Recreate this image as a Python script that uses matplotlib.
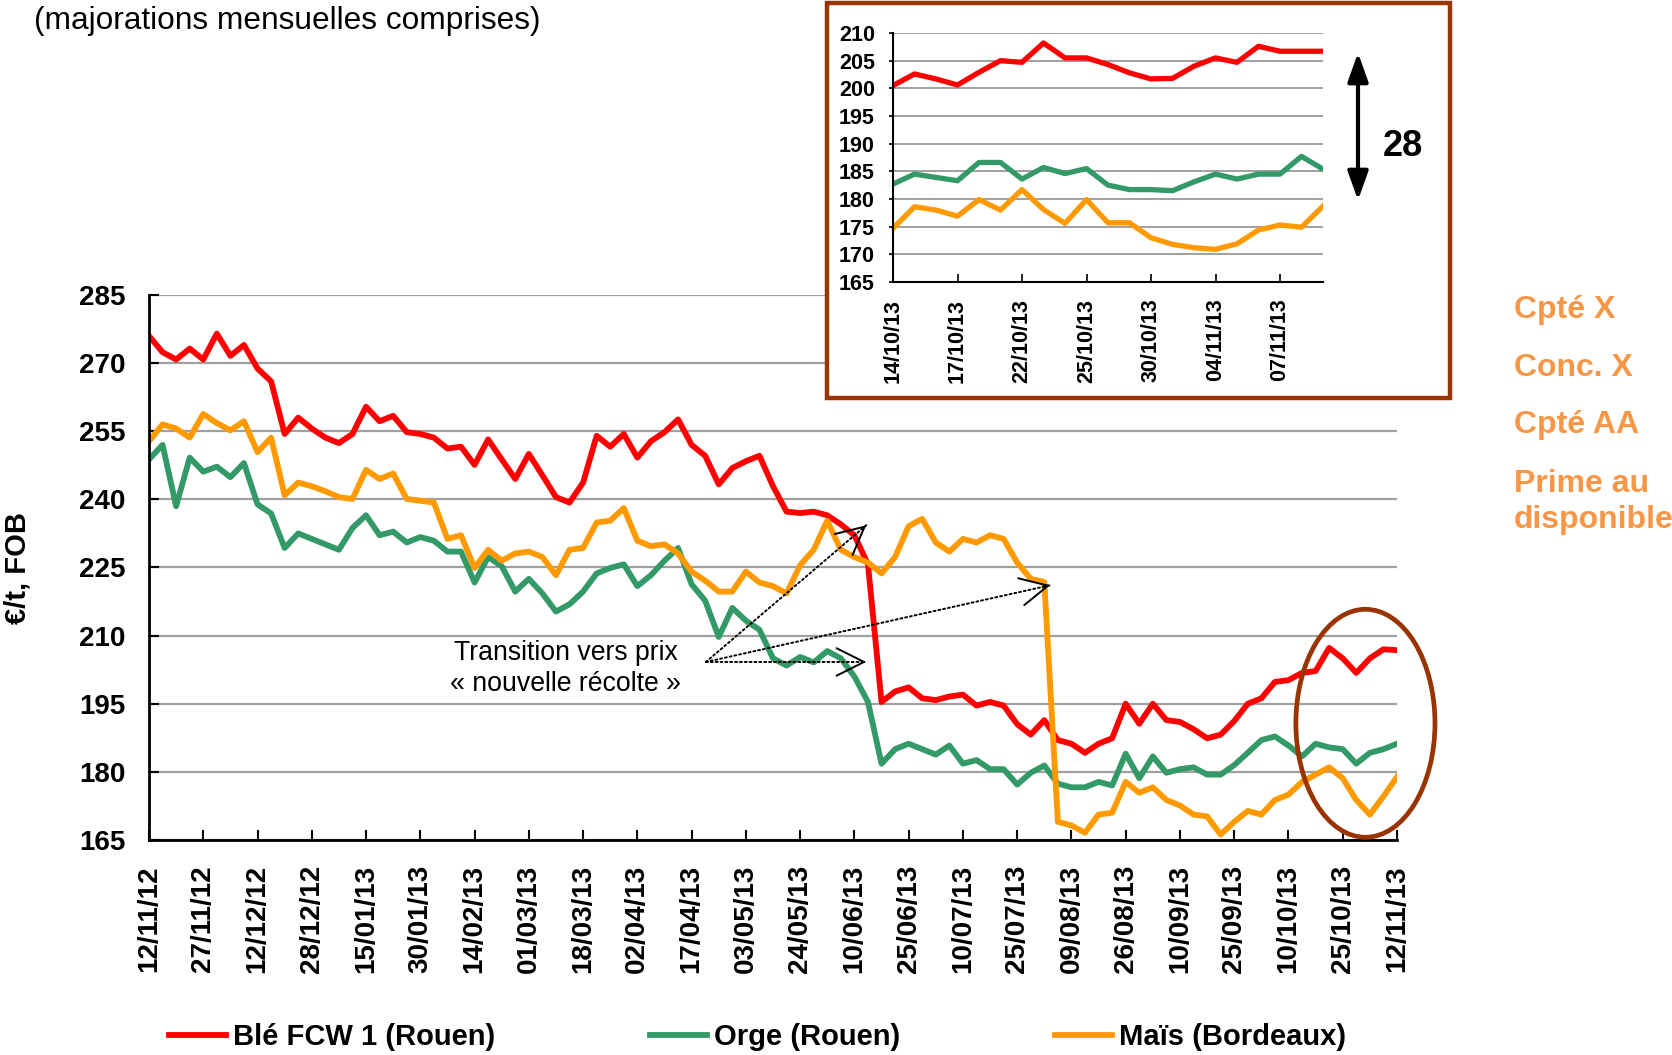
import matplotlib.pyplot as plt
import numpy as np
from matplotlib.patches import Ellipse, Rectangle, FancyArrowPatch

plt.rcParams["font.family"] = ["Liberation Sans", "DejaVu Sans"]

# Main chart: one label every 11 trading days, values read every quarter label
date_labels = [
    "12/11/12", "27/11/12", "12/12/12", "28/12/12", "15/01/13", "30/01/13",
    "14/02/13", "01/03/13", "18/03/13", "02/04/13", "17/04/13", "03/05/13",
    "24/05/13", "10/06/13", "25/06/13", "10/07/13", "25/07/13", "09/08/13",
    "26/08/13", "10/09/13", "25/09/13", "10/10/13", "25/10/13", "12/11/13",
]

ble = [
    276.0, 272.4, 270.8, 273.2,
    270.8, 276.5, 271.6, 274.0,
    268.8, 266.0, 254.4, 258.0,
    255.6, 253.6, 252.4, 254.4,
    260.4, 257.2, 258.4, 254.8,
    254.4, 253.6, 251.2, 251.6,
    247.6, 253.2, 248.8, 244.5,
    250.0, 245.3, 240.5, 239.3,
    243.7, 254.0, 251.6, 254.4,
    249.2, 252.8, 254.8, 257.6,
    252.0, 249.6, 243.3, 246.9,
    248.4, 249.6, 242.9, 237.3,
    237.0, 237.3, 236.5, 234.5,
    232.1, 225.7, 195.4, 197.7,
    198.6, 196.2, 195.8, 196.6,
    197.0, 194.6, 195.4, 194.6,
    190.5, 188.2, 191.4, 187.0,
    186.2, 184.2, 186.2, 187.4,
    195.0, 190.6, 195.0, 191.4,
    191.0, 189.4, 187.4, 188.2,
    191.2, 195.0, 196.2, 199.8,
    200.2, 201.8, 202.2, 207.3,
    205.0, 201.8, 205.0, 207.0,
    206.8,
]

orge = [
    248.8, 252.0, 238.5, 249.2,
    246.1, 247.2, 244.9, 248.0,
    238.9, 236.9, 229.3, 232.5,
    231.3, 230.1, 228.9, 233.7,
    236.5, 232.1, 232.9, 230.5,
    231.7, 230.9, 228.5, 228.5,
    221.7, 227.3, 225.3, 219.7,
    222.5, 219.3, 215.3, 216.9,
    219.7, 223.7, 224.9, 225.7,
    220.9, 223.3, 226.5, 229.3,
    221.3, 217.7, 209.7, 216.1,
    213.3, 211.3, 205.0, 203.4,
    205.3, 204.1, 206.6, 205.0,
    201.0, 195.4, 181.8, 185.0,
    186.2, 185.0, 183.8, 185.8,
    181.8, 182.6, 180.6, 180.6,
    177.2, 179.8, 181.4, 177.4,
    176.6, 176.6, 177.8, 177.0,
    184.0, 178.6, 183.4, 179.8,
    180.6, 181.0, 179.4, 179.4,
    181.5, 184.2, 187.0, 187.8,
    185.8, 183.4, 186.2, 185.4,
    185.0, 181.8, 184.2, 185.0,
    186.2,
]

mais = [
    252.8, 256.5, 255.6, 253.6,
    258.8, 256.8, 255.2, 257.2,
    250.4, 253.6, 240.9, 243.7,
    242.9, 241.8, 240.5, 240.1,
    246.5, 244.5, 245.7, 240.1,
    239.7, 239.3, 231.3, 232.1,
    224.9, 228.9, 226.5, 228.1,
    228.5, 227.3, 223.3, 228.9,
    229.3, 234.9, 235.3, 238.1,
    230.9, 229.7, 230.1, 228.1,
    224.1, 222.1, 219.7, 219.7,
    224.1, 221.7, 220.9, 219.3,
    225.5, 228.9, 235.3, 228.9,
    227.3, 226.1, 223.7, 227.3,
    234.1, 235.7, 230.5, 228.5,
    231.3, 230.5, 232.1, 231.3,
    226.1, 222.5, 221.8, 169.0,
    168.2, 166.6, 170.6, 171.0,
    177.8, 175.4, 176.6, 173.8,
    172.6, 170.6, 170.2, 166.2,
    169.0, 171.4, 170.6, 173.8,
    175.0, 177.8, 179.4, 181.0,
    178.6, 173.8, 170.6, 174.6,
    178.9,
]

# Zoom on the last month (daily values)
inset_labels = ["14/10/13", "17/10/13", "22/10/13", "25/10/13",
                "30/10/13", "04/11/13", "07/11/13"]
ble_zoom = [200.5, 202.6, 201.7, 200.6, 202.9, 205.0, 204.7, 208.2, 205.5,
            205.5, 204.3, 202.8, 201.7, 201.8, 204.0, 205.5, 204.7, 207.6,
            206.7, 206.7, 206.7]
orge_zoom = [182.7, 184.5, 183.9, 183.3, 186.6, 186.6, 183.6, 185.7, 184.6,
             185.5, 182.5, 181.7, 181.7, 181.5, 183.1, 184.5, 183.6, 184.5,
             184.5, 187.7, 185.4]
mais_zoom = [174.7, 178.6, 178.0, 176.9, 179.9, 178.0, 181.7, 178.1, 175.6,
             179.9, 175.7, 175.7, 173.0, 171.8, 171.2, 170.9, 171.9, 174.4,
             175.3, 174.9, 178.7]

RED = "#FF0000"
GREEN = "#339966"
ORANGE = "#FF9900"
ORANGE_TXT = "#F79646"
BROWN = "#993300"
GRID = "#A0A0A0"

W, H = 1672, 1055
fig = plt.figure(figsize=(W / 100, H / 100), dpi=100)
fig.patch.set_facecolor("white")


def fx(px):
    return px / W


def fy(py):
    return 1 - py / H


# %% main chart
ax = fig.add_axes([fx(149), fy(840), fx(1397 - 149), (840 - 295) / H], zorder=0)
x = np.arange(len(ble)) * 11 / 4
ax.plot(x, ble, color=RED, lw=4.2, label="Blé FCW 1 (Rouen)", solid_joinstyle="round")
ax.plot(x, orge, color=GREEN, lw=4.2, label="Orge (Rouen)", solid_joinstyle="round")
ax.plot(x, mais, color=ORANGE, lw=4.2, label="Maïs (Bordeaux)", solid_joinstyle="round")

ax.set_xlim(0, 253)
ax.set_ylim(165, 285)
ax.set_yticks(np.arange(165, 286, 15))
ax.set_xticks(np.arange(0, 254, 11))
ax.set_xticklabels(date_labels, rotation=90)
for lab in ax.get_xticklabels() + ax.get_yticklabels():
    lab.set_fontweight("bold")
    lab.set_fontsize(20)
ax.tick_params(axis="x", direction="in", length=7, width=1.5, pad=18)
ax.tick_params(axis="y", direction="in", length=7, width=1.5, pad=17)
ax.grid(axis="y", color=GRID, lw=1.6)
ax.set_axisbelow(True)
for side in ("top", "right"):
    ax.spines[side].set_visible(False)
for side in ("left", "bottom"):
    ax.spines[side].set_linewidth(2)

# annotation: harvest transition
ax.text(84.5, 202.7, "Transition vers prix\n« nouvelle récolte »", ha="center",
        va="center", fontsize=19.2, linespacing=1.25)
start = np.array([112.9, 204.2])
for end in ([145.4, 234.3], [182.7, 221.1], [145.4, 204.2]):
    end = np.array(end)
    ax.annotate("", xy=end, xytext=start,
                arrowprops=dict(arrowstyle="-", linestyle=(0, (1, 1.5)), lw=1.4,
                                color="black", shrinkA=0, shrinkB=0))
    ax.annotate("", xy=end, xytext=end - (end - start) * 0.02,
                arrowprops=dict(arrowstyle="->,head_length=0.9,head_width=0.45",
                                lw=1.4, color="black", shrinkA=0, shrinkB=0,
                                mutation_scale=22))

ax.add_patch(Ellipse((246.6, 190.7), 28.2, 50.2, fill=False, edgecolor=BROWN,
                     lw=3.4, clip_on=False, zorder=5))

fig.text(fx(18), fy(568), "€/t, FOB", rotation=90, ha="center", va="center",
         fontsize=21, fontweight="bold")
fig.text(fx(34), fy(21), "(majorations mensuelles comprises)", ha="left",
         va="center", fontsize=22.8)

handles, labels = ax.get_legend_handles_labels()
fig.legend(handles, labels, loc="center", bbox_to_anchor=(0.453, fy(1037)),
           ncol=3, frameon=False, prop={"weight": "bold", "size": 21},
           handlelength=1.95, handletextpad=0.25, columnspacing=5.3)

# %% right-hand notes
for txt, ypx in [("Cpté X", 310), ("Conc. X", 368), ("Cpté AA", 425),
                 ("Prime au\ndisponible", 502)]:
    fig.text(fx(1514), fy(ypx), txt, color=ORANGE_TXT, fontsize=23,
             fontweight="bold", ha="left", va="center", linespacing=1.25)

# %% inset
box = Rectangle((fx(827), fy(398)), fx(1450 - 827), (398 - 3) / H,
                transform=fig.transFigure, facecolor="white", edgecolor=BROWN,
                lw=3.2, zorder=1)
fig.add_artist(box)

axi = fig.add_axes([fx(893), fy(282), fx(1323 - 893), (282 - 33) / H], zorder=2)
xi = np.arange(len(ble_zoom))
axi.plot(xi, ble_zoom, color=RED, lw=3.8, solid_joinstyle="round")
axi.plot(xi, orge_zoom, color=GREEN, lw=3.8, solid_joinstyle="round")
axi.plot(xi, mais_zoom, color=ORANGE, lw=3.8, solid_joinstyle="round")
axi.set_xlim(0, 20)
axi.set_ylim(165, 210)
axi.set_yticks(np.arange(165, 211, 5))
axi.set_xticks(np.arange(0, 19, 3))
axi.set_xticklabels(inset_labels, rotation=90)
for lab in axi.get_xticklabels() + axi.get_yticklabels():
    lab.set_fontweight("bold")
    lab.set_fontsize(15.5)
axi.tick_params(axis="x", direction="in", length=6, width=1.2, pad=12)
axi.tick_params(axis="y", direction="out", length=3, width=1.2, pad=10)
axi.grid(axis="y", color=GRID, lw=1.4)
axi.set_axisbelow(True)
for side in ("top", "right"):
    axi.spines[side].set_visible(False)
for side in ("left", "bottom"):
    axi.spines[side].set_linewidth(1.5)

fig.add_artist(FancyArrowPatch((fx(1358), fy(203)), (fx(1358), fy(50)),
                               transform=fig.transFigure,
                               arrowstyle="<|-|>,head_length=0.7,head_width=0.25",
                               mutation_scale=25, lw=3, color="black", zorder=3))
fig.text(fx(1403), fy(146), "28", ha="center", va="center", fontsize=26,
         fontweight="bold", zorder=3)

fig.savefig("out.png", dpi=100, facecolor="white")
